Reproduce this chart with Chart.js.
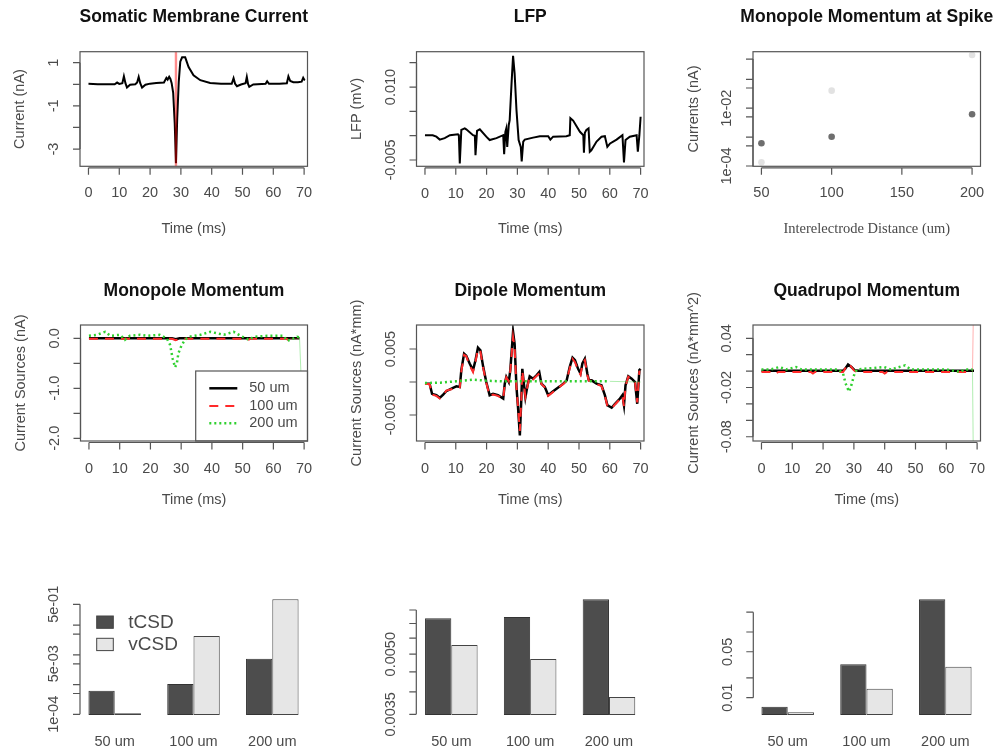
<!DOCTYPE html>
<html>
<head>
<meta charset="utf-8">
<script src="https://cdn.jsdelivr.net/npm/chart.js@4.4.1/dist/chart.umd.min.js"></script>
<style>
  body { margin: 0; background: #fff; }
  #fig { position: relative; width: 999px; height: 751px; background: #fff; }
  #fig canvas { position: absolute; }
</style>
</head>
<body>
<div id="fig"></div>
<script>
// ---- values ----
const timeTicks = [0, 10, 20, 30, 40, 50, 60, 70];
const distTicks = [50, 100, 150, 200];
const distanceLabels = ['50 um', '100 um', '200 um'];
const methodNames = ['tCSD', 'vCSD'];

// somatic membrane current [t ms, nA]
const somaCurrent = [[0,0.02],[3,0],[6,0],[8.5,0],[9.3,0.08],[10,0.02],[11,0.05],[11.5,0.37],[12,0.05],[12.5,-0.15],[13.5,-0.02],[15.2,0],[15.8,0.08],[16.3,0.34],[16.8,0.05],[17.4,-0.15],[18.5,-0.02],[20,0.03],[22,0.06],[24.5,0.08],[25.3,0.3],[25.7,0.22],[26.2,0.35],[26.6,0.25],[27,0.05],[27.5,-0.4],[28,-1.8],[28.4,-3.66],[28.8,-1.6],[29.3,0.1],[29.8,1.05],[30.4,1.25],[31.4,1.25],[32.5,0.8],[34.1,0.42],[36.3,0.19],[39.5,0.06],[43,0.02],[46.5,0.02],[47.1,0.28],[47.6,0.02],[48.2,-0.09],[49.5,-0.01],[51,0.05],[51.4,0.34],[51.8,0.02],[52.2,-0.12],[53.5,-0.01],[57.5,0.02],[58,0.14],[58.6,0.02],[62,0.02],[64.4,0.05],[64.9,0.37],[65.5,0.15],[66.5,0.1],[68,0.1],[69.2,0.12],[69.7,0.3],[70,0.22],[70.3,0.2]];
const spikeTime = 28.4;
const somaYTicks = [-3, -2, -1, 0, 1];
const somaYLabels = ['-3', '', '-1', '', '1'];

// LFP [t ms, mV]
const lfp = [[0,0.0001],[2.5,0.0001],[3.7,-0.0002],[4.8,-0.0008],[6.4,-0.0005],[8.1,0.0001],[10.7,0.0003],[11,0.0001],[11.3,-0.0057],[11.8,0.0012],[12.9,0.0015],[13.4,0.0013],[15.6,0.0001],[16.2,0],[16.4,-0.004],[16.9,0.001],[17.8,0.0013],[19.9,-0.0002],[21,-0.0009],[23.2,-0.0005],[25.4,0.0001],[25.7,-0.0038],[26.1,0.0008],[26.4,0.0015],[26.7,-0.0023],[27.2,0.0022],[27.5,0.0032],[28.1,0.0107],[28.6,0.0164],[29.1,0.0128],[29.7,0.0053],[30.4,-0.0009],[31.1,-0.0023],[31.4,-0.0053],[31.9,-0.0012],[32.4,-0.0008],[35.1,-0.0004],[37.3,-0.0001],[40,-0.0001],[40.7,-0.0008],[41.6,-0.0002],[45.9,-0.0001],[47,0.0001],[47.2,0.0036],[48.1,0.0031],[50.3,0.0008],[51.4,0.0001],[51.6,-0.0035],[51.9,0.0006],[52.4,0.0012],[53.1,0.0015],[53.5,-0.0033],[54,-0.003],[55.7,-0.0012],[57.3,-0.0002],[58.4,-0.0001],[59.2,-0.0023],[60.1,-0.0016],[62.2,-0.0008],[64.1,0.0001],[64.6,-0.0055],[65.1,-0.0009],[66.5,-0.0002],[68.7,0.0001],[69.1,-0.0033],[69.6,0.0001],[70,0.0039]];
const lfpYTicks = [-0.005, 0, 0.005, 0.01, 0.015];
const lfpYLabels = ['-0.005', '', '', '0.010', ''];

// monopole momentum at spike (points)
const spikeMonoT = [6.1e-4, 1.03e-3, 6.2e-3];
const spikeMonoV = [1.34e-4, 0.0405, 0.69];
const logTicks = [1e-4, 5e-4, 1e-3, 5e-3, 1e-2, 5e-2, 1e-1, 5e-1];
const spikeMonoYLabels = ['1e-04', '', '', '', '1e-02', '', '', ''];

// monopole momentum [t ms, nA]
const mono50 = [[0,0],[27,0],[28.2,-0.02],[29.5,0],[68.5,0]];
const mono100 = [[0,-0.01],[27,-0.01],[28.2,-0.04],[29.5,-0.01],[51.5,-0.01],[52,-0.025],[52.5,-0.01],[64.3,-0.01],[64.8,-0.03],[65.4,-0.01],[68.5,-0.01]];
const mono200 = [[0,0.05],[2.6,0.07],[5.3,0.13],[7,0.05],[10.1,0.07],[11.7,-0.03],[13.3,0.05],[16.6,0.07],[19,0.05],[23,0.07],[25.3,0],[26.4,-0.13],[27.2,-0.4],[28,-0.58],[28.6,-0.5],[29.1,-0.3],[30.2,-0.13],[31.3,-0.03],[32.4,0.03],[36.3,0.07],[39.5,0.13],[41.7,0.1],[43.9,0.07],[47.1,0.13],[49.3,0.05],[52,-0.03],[53.6,0.03],[58,0.05],[63.3,0.05],[64.4,-0.05],[66,-0.02],[67.7,0.03],[68.5,0.02],[69.5,-1.5]];
const monoYTicks = [-2, -1.5, -1, -0.5, 0];
const monoYLabels = ['-2.0', '', '-1.0', '', '0.0'];

// dipole momentum [t ms, nA*mm]
const dip50 = [[0,-0.00025],[1.5,-0.00025],[2.3,-0.0018],[3.7,-0.002],[4.8,-0.0024],[5.9,-0.0019],[6.9,-0.0014],[8.6,-0.001],[10.2,-0.00066],[11.3,-0.00076],[11.8,0.0018],[12.7,0.0043],[13.4,0.004],[14.5,0.0028],[15.6,0.0018],[16.4,0.0033],[17.2,0.0052],[18,0.0048],[18.9,0.0023],[19.9,0],[21,-0.002],[22.1,-0.0018],[23.7,-0.002],[25.4,-0.0025],[25.9,-0.00025],[26.4,0.00076],[27.2,0],[27.7,0.0018],[28.6,0.0076],[29.1,0.0058],[29.7,-0.00076],[30.2,-0.0038],[30.8,-0.0081],[31.3,-0.0023],[31.6,0.002],[32.1,-0.00025],[32.6,-0.0023],[33.3,-0.0005],[34,0.00086],[35.1,0.0005],[36.2,0.001],[37.1,0.0015],[37.8,-0.00025],[38.9,-0.00076],[40,-0.002],[41.6,-0.0014],[43.8,-0.00066],[44.9,-0.00025],[46,0.00025],[47,0.0023],[47.9,0.0037],[48.7,0.0033],[49.7,0.002],[50.5,0.0013],[51.1,0.0028],[51.9,0.0035],[52.7,0.0013],[53.2,0.00025],[54.1,0.00025],[55.7,-0.00025],[57.3,-0.0005],[58.4,-0.002],[59.2,-0.0035],[60.6,-0.0039],[61.7,-0.0033],[63.3,-0.0025],[64.1,-0.002],[64.6,-0.0035],[65.1,-0.0005],[66,0.00086],[67.1,0.0005],[68.2,0],[68.9,-0.0033],[69.6,0.0018],[70,0.002]];
const dip100 = [[0,-0.0003],[1.5,-0.0003],[2.3,-0.0019],[3.7,-0.0021],[4.8,-0.0025],[5.9,-0.002],[6.9,-0.0013],[8.6,-0.0011],[10.2,-0.0007],[11.3,-0.0008],[11.8,0.0016],[12.7,0.0041],[13.4,0.0039],[14.5,0.0025],[15.6,0.0015],[16.4,0.0031],[17.2,0.005],[18,0.0046],[18.9,0.0021],[19.9,-0.0001],[21,-0.0021],[22.1,-0.0019],[23.7,-0.0021],[25.4,-0.0026],[25.9,-0.0003],[26.4,0.0007],[27.2,0.0001],[27.7,0.0017],[28.6,0.0068],[29.1,0.0052],[29.7,-0.0009],[30.2,-0.0037],[30.8,-0.0074],[31.3,-0.0024],[31.6,0.0017],[32.1,-0.0003],[32.6,-0.0022],[33.3,-0.0006],[34,0.0008],[35.1,0.0004],[36.2,0.0009],[37.1,0.0013],[37.8,-0.0003],[38.9,-0.0008],[40,-0.0021],[41.6,-0.0015],[43.8,-0.0007],[44.9,-0.0003],[46,0.0002],[47,0.0021],[47.9,0.0035],[48.7,0.003],[49.7,0.0018],[50.5,0.0011],[51.1,0.0027],[51.9,0.0033],[52.7,0.0011],[53.2,0.0002],[54.1,0.0002],[55.7,-0.0003],[57.3,-0.0006],[58.4,-0.0021],[59.2,-0.0036],[60.6,-0.004],[61.7,-0.0034],[63.3,-0.0026],[64.1,-0.0021],[64.6,-0.0037],[65.1,-0.0006],[66,0.0008],[67.1,0.0004],[68.2,-0.0001],[68.9,-0.0031],[69.6,0.0017],[70,0.0019]];
const dip200 = [[0,-0.00015],[5,-0.0001],[10,0.0001],[15.6,0.00035],[20,0.0002],[25,0.0001],[30,0.0001],[40,0.0001],[50,0.0001],[60,0.0001],[70,0]];
const dipYTicks = [-0.005, 0, 0.005];
const dipYLabels = ['-0.005', '', '0.005'];

// quadrupole momentum [t ms, nA*mm^2]
const quad50 = [[0,0.0005],[26.5,0.0005],[27.2,0.003],[28.1,0.008],[29.2,0.005],[30.3,0.001],[31.5,0.0005],[69,0.0005]];
const quad100 = [[0,-0.001],[4,-0.001],[4.7,-0.003],[5.5,-0.001],[16,-0.001],[16.7,-0.003],[17.4,-0.001],[26.5,-0.001],[27.3,0.004],[28.1,0.009],[29,0.006],[30,0.001],[31,-0.001],[39.3,-0.001],[40,-0.003],[40.8,-0.001],[46.4,-0.001],[47.1,-0.003],[47.8,-0.001],[68.5,-0.001],[69,0.12]];
const quad200 = [[0,0.002],[3,0.002],[5.8,0.005],[8,0.002],[11.2,0.005],[13,0.002],[25,0.002],[26.5,-0.003],[27.3,-0.015],[28.4,-0.025],[29.2,-0.017],[30.2,-0.003],[31,0.002],[39.8,0.005],[42,0.002],[46.6,0.007],[48.5,0.002],[60,0.002],[64.5,-0.001],[66,0.002],[68.5,0.002],[69,-0.2]];
const quadYTicks = [-0.08, -0.06, -0.04, -0.02, 0, 0.02, 0.04];
const quadYLabels = ['-0.08', '', '', '-0.02', '', '', '0.04'];

// bar panels (tCSD, vCSD per distance)
const barMonoT = [6.2e-4, 1.04e-3, 7.4e-3];
const barMonoV = [1.08e-4, 0.043, 0.738];
const barMonoYLabels = ['1e-04', '', '', '5e-03', '', '', '', '5e-01'];
const barDipT = [0.00619, 0.00624, 0.00693];
const barDipV = [0.00528, 0.00486, 0.00388];
const barDipYTicks = [0.0035, 0.004, 0.0045, 0.005, 0.0055, 0.006, 0.0065];
const barDipYLabels = ['0.0035', '', '', '0.0050', '', '', ''];
const barQuadT = [0.0073, 0.0322, 0.314];
const barQuadV = [0.006, 0.0137, 0.0297];
const barQuadYTicks = [0.01, 0.02, 0.05, 0.1, 0.2];
const barQuadYLabels = ['0.01', '', '0.05', '', ''];

// ---- drawing ----
const SANS = '"Liberation Sans", Arial, sans-serif';
const SERIF = '"Liberation Serif", "Times New Roman", serif';
const INK = '#4a4a4a';
const LINE = '#555';
const RED = '#ff2a2a';
const GREEN = '#2fd12f';
const DARK = '#4d4d4d';
const LIGHT = '#e6e6e6';

const fig = document.getElementById('fig');
const rows = [[0, 250], [250, 270], [520, 231]];
const cell = (col, row) => [col * 333, rows[row][0], 333, rows[row][1]];

const rPlot = spec => ({
  id: 'rPlot',
  afterDraw(chart) {
    const ctx = chart.ctx;
    const a = chart.chartArea;
    const sx = chart.scales.x, sy = chart.scales.y;
    const ox = spec.cell[0], oy = spec.cell[1];
    const midX = (a.left + a.right) / 2;
    ctx.save();
    ctx.strokeStyle = LINE;
    ctx.lineWidth = 1.2;
    ctx.fillStyle = INK;
    ctx.font = '14.5px ' + SANS;
    ctx.textAlign = 'center';
    ctx.textBaseline = 'middle';

    if (spec.legend) spec.legend(ctx, ox, oy);

    if (spec.box) ctx.strokeRect(a.left, a.top, a.right - a.left, a.bottom - a.top);

    // x axis
    if (spec.xTicks) {
      const y0 = a.bottom + 1.5;
      const px = spec.xTicks.map(v => sx.getPixelForValue(v));
      ctx.beginPath();
      ctx.moveTo(px[0], y0);
      ctx.lineTo(px[px.length - 1], y0);
      px.forEach(p => { ctx.moveTo(p, y0); ctx.lineTo(p, y0 + 7); });
      ctx.stroke();
      spec.xTicks.forEach((v, i) => ctx.fillText(String(v), px[i], a.bottom + spec.xLabelDy));
    }
    if (spec.xCats) {
      chart.data.labels.forEach((l, i) => ctx.fillText(l, sx.getPixelForValue(i), a.bottom + 26.7));
    }

    // y axis
    const yx = spec.yAxisX !== undefined ? spec.yAxisX - ox : a.left;
    const py = spec.yTicks.map(v => sy.getPixelForValue(v));
    ctx.beginPath();
    ctx.moveTo(yx, Math.min(...py));
    ctx.lineTo(yx, Math.max(...py));
    py.forEach(p => { ctx.moveTo(yx, p); ctx.lineTo(yx - 7, p); });
    ctx.stroke();
    spec.yLabels.forEach((t, i) => {
      if (!t) return;
      ctx.save();
      ctx.translate(yx - 25.7, py[i]);
      ctx.rotate(-Math.PI / 2);
      ctx.fillText(t, 0, 0);
      ctx.restore();
    });
    if (spec.yTitle) {
      ctx.save();
      ctx.translate(yx + (spec.yTitleDx || -60), (a.top + a.bottom) / 2);
      ctx.rotate(-Math.PI / 2);
      ctx.fillText(spec.yTitle, 0, 0);
      ctx.restore();
    }
    if (spec.xTitle) {
      ctx.font = '14.5px ' + (spec.xTitleFont || SANS);
      ctx.fillText(spec.xTitle, midX, spec.xTitleY - oy);
    }
    if (spec.title) {
      ctx.font = 'bold 17.5px ' + SANS;
      ctx.fillStyle = '#111';
      ctx.fillText(spec.title, midX, spec.titleY - oy);
    }
    ctx.restore();
  }
});

function makePanel(c, area, type, data, scales, spec) {
  const cv = document.createElement('canvas');
  cv.width = c[2]; cv.height = c[3];
  cv.style.left = c[0] + 'px'; cv.style.top = c[1] + 'px';
  cv.style.width = c[2] + 'px'; cv.style.height = c[3] + 'px';
  fig.appendChild(cv);
  spec.cell = c;
  return new Chart(cv, {
    type: type,
    data: data,
    options: {
      responsive: false,
      animation: false,
      devicePixelRatio: 1,
      events: [],
      layout: { padding: { left: area[0] - c[0], top: area[1] - c[1], right: c[0] + c[2] - area[2], bottom: c[1] + c[3] - area[3] } },
      plugins: { legend: { display: false }, tooltip: { enabled: false } },
      scales: scales
    },
    plugins: [rPlot(spec)]
  });
}

const lin = (min, max) => ({ type: 'linear', display: false, min: min, max: max, bounds: 'data' });
const logs = (min, max) => ({ type: 'logarithmic', display: false, min: min, max: max, bounds: 'data' });
const trace = (pts, color, width, dash, order, faintTail) => {
  const ds = {
    data: pts.map(p => ({ x: p[0], y: p[1] })),
    borderColor: color, borderWidth: width, borderDash: dash || [],
    pointRadius: 0, tension: 0, fill: false, order: order || 0
  };
  // the last jump off the plot is only a thin faint stroke in the figure
  if (faintTail) {
    const last = pts.length - 1;
    ds.segment = {
      borderWidth: c => c.p1DataIndex === last ? 0.8 : undefined,
      borderDash: c => c.p1DataIndex === last ? [] : undefined,
      borderColor: c => c.p1DataIndex === last ? faintTail : undefined
    };
  }
  return ds;
};
const timeX = lin(-2.75, 71.1);

// row 1
makePanel(cell(0, 0), [80, 51.7, 307.5, 166.3], 'line', {
  datasets: [
    trace([[spikeTime, -3.8], [spikeTime, 1.51]], 'rgba(255,0,0,0.45)', 2.4, [], 0),
    trace(somaCurrent, '#000', 2, [], 1)
  ]
}, { x: timeX, y: lin(-3.8, 1.51) }, {
  box: true, xTicks: timeTicks, xLabelDy: 27, yTicks: somaYTicks, yLabels: somaYLabels,
  yTitle: 'Current (nA)', title: 'Somatic Membrane Current', titleY: 16.7,
  xTitle: 'Time (ms)', xTitleY: 228.7
});

makePanel(cell(1, 0), [416.5, 51.7, 644, 166.3], 'line', {
  datasets: [trace(lfp, '#000', 2)]
}, { x: timeX, y: lin(-0.00629, 0.01726) }, {
  box: true, xTicks: timeTicks, xLabelDy: 27.5, yTicks: lfpYTicks, yLabels: lfpYLabels,
  yTitle: 'LFP (mV)', title: 'LFP', titleY: 16.7,
  xTitle: 'Time (ms)', xTitleY: 228.7
});

const spikeDist = distTicks.filter(d => d !== 150);
makePanel(cell(2, 0), [753, 51.7, 980.5, 166.3], 'scatter', {
  datasets: [
    { data: spikeDist.map((d, i) => ({ x: d, y: spikeMonoT[i] })), backgroundColor: '#6e6e6e', borderWidth: 0, pointRadius: 3.3 },
    { data: spikeDist.map((d, i) => ({ x: d, y: spikeMonoV[i] })), backgroundColor: '#e2e2e2', borderWidth: 0, pointRadius: 3.3 }
  ]
}, { x: lin(44, 206), y: logs(9.76e-5, 0.902) }, {
  box: true, xTicks: distTicks, xLabelDy: 27, yTicks: logTicks, yLabels: spikeMonoYLabels,
  yTitle: 'Currents (nA)', yTitleDx: -58.7, title: 'Monopole Momentum at Spike', titleY: 16.7,
  xTitle: 'Interelectrode Distance (um)', xTitleY: 229.3, xTitleFont: SERIF
});

// row 2
const seriesStyle = [
  { color: '#000', dash: [], width: 2.5, tail: null },
  { color: RED, dash: [9, 7], width: 2, tail: 'rgba(255,60,60,0.5)' },
  { color: GREEN, dash: [2, 3], width: 2.5, tail: 'rgba(60,210,60,0.5)' }
];
const lineLegend = (ctx, ox, oy) => {
  ctx.save();
  ctx.fillStyle = '#fff';
  ctx.fillRect(195.7 - ox, 371 - oy, 111.8, 70);
  ctx.strokeRect(195.7 - ox, 371 - oy, 111.8, 70);
  distanceLabels.forEach((name, i) => {
    const y = [388.3, 406, 423.3][i] - oy;
    const s = seriesStyle[i];
    ctx.save();
    ctx.strokeStyle = s.color; ctx.lineWidth = s.width; ctx.setLineDash(s.dash);
    ctx.beginPath(); ctx.moveTo(209.3 - ox, y); ctx.lineTo(237.3 - ox, y); ctx.stroke();
    ctx.restore();
    ctx.fillStyle = INK; ctx.textAlign = 'left';
    ctx.font = '14.5px ' + SANS;
    ctx.fillText(name, 249.3 - ox, y);
  });
  ctx.restore();
};
const threeTraces = sets => sets.map((pts, i) =>
  trace(pts, seriesStyle[i].color, seriesStyle[i].width, seriesStyle[i].dash, 3 - i, seriesStyle[i].tail));

makePanel(cell(0, 1), [80.5, 325, 307.5, 441], 'line', {
  datasets: threeTraces([mono50, mono100, mono200])
}, { x: timeX, y: lin(-2.054, 0.266) }, {
  box: true, xTicks: timeTicks, xLabelDy: 28.3, yTicks: monoYTicks, yLabels: monoYLabels,
  yTitle: 'Current Sources (nA)', title: 'Monopole Momentum', titleY: 290.7,
  xTitle: 'Time (ms)', xTitleY: 500, legend: lineLegend
});

makePanel(cell(1, 1), [416.5, 325, 644, 441], 'line', {
  datasets: threeTraces([dip50, dip100, dip200])
}, { x: timeX, y: lin(-0.00894, 0.00864) }, {
  box: true, xTicks: timeTicks, xLabelDy: 28.3, yTicks: dipYTicks, yLabels: dipYLabels,
  yTitle: 'Current Sources (nA*mm)', title: 'Dipole Momentum', titleY: 290.7,
  xTitle: 'Time (ms)', xTitleY: 500
});

makePanel(cell(2, 1), [753, 325, 980.5, 441], 'line', {
  datasets: threeTraces([quad50, quad100, quad200])
}, { x: timeX, y: lin(-0.0852, 0.0562) }, {
  box: true, xTicks: timeTicks, xLabelDy: 28.3, yTicks: quadYTicks, yLabels: quadYLabels,
  yTitle: 'Current Sources (nA*mm^2)', yTitleDx: -58.7, title: 'Quadrupol Momentum', titleY: 290.7,
  xTitle: 'Time (ms)', xTitleY: 500
});

// row 3
const barSets = (t, v) => [
  { label: methodNames[0], data: t, backgroundColor: DARK, borderColor: '#333', borderWidth: 1, borderSkipped: false, categoryPercentage: 2 / 3, barPercentage: 1 },
  { label: methodNames[1], data: v, backgroundColor: LIGHT, borderColor: '#444', borderWidth: 1, borderSkipped: false, categoryPercentage: 2 / 3, barPercentage: 1 }
];
const catX = { type: 'category', display: false, offset: true };
const barLegend = (ctx, ox, oy) => {
  ctx.save();
  ctx.strokeStyle = '#444'; ctx.lineWidth = 1;
  [[DARK, 616], [LIGHT, 638.3]].forEach(([col, top], i) => {
    ctx.fillStyle = col;
    ctx.fillRect(96.7 - ox, top - oy, 16.6, 12.3);
    ctx.strokeRect(96.7 - ox, top - oy, 16.6, 12.3);
    ctx.fillStyle = INK; ctx.textAlign = 'left'; ctx.font = '19px ' + SANS;
    ctx.fillText(methodNames[i], 128.3 - ox, top + 6.5 - oy);
  });
  ctx.restore();
};

makePanel(cell(0, 2), [75.3, 590, 311.7, 715], 'bar', {
  labels: distanceLabels, datasets: barSets(barMonoT, barMonoV)
}, { x: catX, y: logs(9.47e-5, 1.517) }, {
  xCats: true, yAxisX: 80, yTicks: logTicks, yLabels: barMonoYLabels, legend: barLegend
});

makePanel(cell(1, 2), [411.9, 590, 648.4, 715], 'bar', {
  labels: distanceLabels, datasets: barSets(barDipT, barDipV)
}, { x: catX, y: logs(0.003486, 0.007319) }, {
  xCats: true, yAxisX: 416.3, yTicks: barDipYTicks, yLabels: barDipYLabels
});

makePanel(cell(2, 2), [748.3, 590, 984.7, 715], 'bar', {
  labels: distanceLabels, datasets: barSets(barQuadT, barQuadV)
}, { x: catX, y: logs(0.005453, 0.4357) }, {
  xCats: true, yAxisX: 753.3, yTicks: barQuadYTicks, yLabels: barQuadYLabels
});
</script>
</body>
</html>
